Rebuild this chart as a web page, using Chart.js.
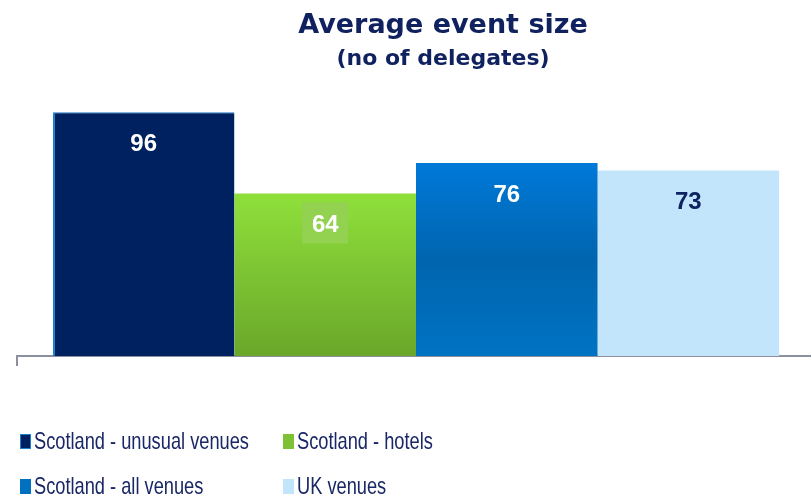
<!DOCTYPE html>
<html>
<head>
<meta charset="utf-8">
<title>Average event size</title>
<script src="https://cdn.jsdelivr.net/npm/chart.js@4.4.1/dist/chart.umd.min.js"></script>
<style>
  html, body { margin: 0; padding: 0; background: #fff; overflow: hidden; }
  #wrap { width: 815px; height: 499px; }
</style>
</head>
<body>
<div id="wrap"><canvas id="eventChart" width="815" height="499"></canvas></div>
<script>
// one category, one bar per venue type
const categories = [''];
const seriesNames = ['Scotland - unusual venues', 'Scotland - hotels', 'Scotland - all venues', 'UK venues'];
const avgDelegates = [96, 64, 76, 73];
const chartTitle = 'Average event size';
const chartSubtitle = '(no of delegates)';

const NAVY = '#0f215f';
const AXIS_GREY = '#8c8fa0';

// gradient stops per bar (top -> bottom)
const barStops = [
    [[0, '#00215f'], [1, '#00215f']],
    [[0, '#8fe03b'], [1, '#6aa72a']],
    [[0, '#0079d8'], [0.5, '#0065af'], [1, '#0073c3']],
    [[0, '#c2e5fb'], [1, '#c2e5fb']]
];
const legendSwatches = ['#00215f', '#7cc234', '#0070c0', '#c2e5fb'];
const labelColors = ['#ffffff', '#ffffff', '#ffffff', '#0d2361'];
const labelBoxes = [null, '#93d150', null, null];

function barGradient(stops) {
    return (ctx) => {
        const chart = ctx.chart;
        const area = chart.chartArea;
        if (!area || ctx.type !== 'data') return stops[0][1];
        const top = chart.scales.y.getPixelForValue(ctx.raw);
        const g = chart.ctx.createLinearGradient(0, top, 0, area.bottom);
        stops.forEach(([p, c]) => g.addColorStop(p, c));
        return g;
    };
}

const headingPlugin = {
    id: 'heading',
    afterDraw(chart) {
        const ctx = chart.ctx;
        const cx = 443;
        ctx.save();
        ctx.fillStyle = NAVY;
        ctx.textAlign = 'center';
        ctx.textBaseline = 'alphabetic';
        ctx.font = 'bold 27px "DejaVu Sans", sans-serif';
        ctx.fillText(chartTitle, cx, 33);
        ctx.font = 'bold 22px "DejaVu Sans", sans-serif';
        ctx.fillText(chartSubtitle, cx, 65);
        ctx.restore();
    }
};

const valueLabelPlugin = {
    id: 'valueLabels',
    afterDatasetsDraw(chart) {
        const ctx = chart.ctx;
        ctx.save();
        ctx.textAlign = 'center';
        ctx.textBaseline = 'middle';
        ctx.font = 'bold 24px "Liberation Sans", Arial, sans-serif';
        chart.data.datasets.forEach((ds, i) => {
            const bar = chart.getDatasetMeta(i).data[0];
            if (!bar) return;
            const y = bar.y + 31;
            if (labelBoxes[i]) {
                ctx.fillStyle = labelBoxes[i];
                ctx.fillRect(bar.x - 23, y - 22, 46, 41);
            }
            ctx.fillStyle = labelColors[i];
            ctx.fillText(String(ds.data[0]), bar.x, y + 1);
        });
        ctx.restore();
    }
};

// two-column legend under the axis, text squeezed sideways
const gridLegendPlugin = {
    id: 'gridLegend',
    afterDraw(chart) {
        const ctx = chart.ctx;
        const cols = [20, 283];
        const rows = [449, 494];
        const squeeze = 0.76;
        ctx.save();
        ctx.textAlign = 'left';
        ctx.textBaseline = 'alphabetic';
        ctx.font = '24px "Liberation Sans", Arial, sans-serif';
        chart.data.datasets.forEach((ds, i) => {
            const x = cols[i % 2];
            const y = rows[Math.floor(i / 2)];
            ctx.fillStyle = legendSwatches[i];
            ctx.fillRect(x, y - 15, 11, 15);
            if (i === 0) {
                ctx.strokeStyle = '#1a7fd0';
                ctx.lineWidth = 1;
                ctx.strokeRect(x + 0.5, y - 14.5, 10, 14);
            }
            ctx.save();
            ctx.translate(x + 14, y);
            ctx.scale(squeeze, 1);
            ctx.fillStyle = '#1a2766';
            ctx.fillText(ds.label, 0, 0);
            ctx.restore();
        });
        ctx.restore();
    }
};

const datasets = seriesNames.map((name, i) => ({
    label: name,
    data: [avgDelegates[i]],
    backgroundColor: barGradient(barStops[i]),
    borderColor: '#1a7fd0',
    borderWidth: i === 0 ? { left: 2, top: 1, right: 0, bottom: 0 } : 0,
    borderSkipped: false,
    categoryPercentage: 0.91,
    barPercentage: 1
}));

new Chart(document.getElementById('eventChart'), {
    type: 'bar',
    data: { labels: categories, datasets },
    options: {
        responsive: false,
        animation: false,
        layout: { padding: { top: 102, left: 17, right: 0, bottom: 133 } },
        plugins: {
            legend: { display: false },
            title: { display: false },
            tooltip: { enabled: false }
        },
        scales: {
            x: {
                grid: {
                    drawOnChartArea: false,
                    drawTicks: true,
                    tickLength: 10,
                    color: AXIS_GREY,
                    lineWidth: 2
                },
                border: { display: true, color: AXIS_GREY, width: 2 },
                ticks: { display: false }
            },
            y: {
                display: false,
                min: 0,
                max: 100
            }
        }
    },
    plugins: [headingPlugin, valueLabelPlugin, gridLegendPlugin]
});
</script>
</body>
</html>
